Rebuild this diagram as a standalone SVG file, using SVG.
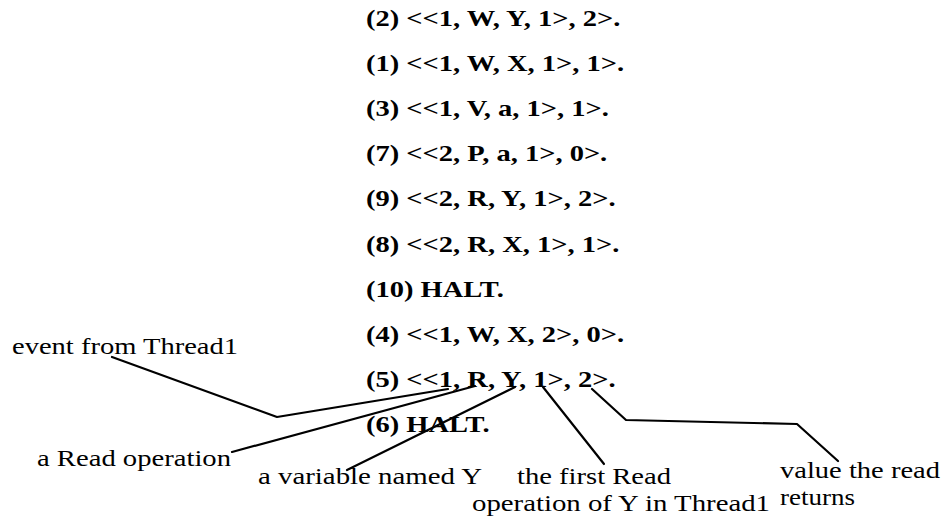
<svg xmlns="http://www.w3.org/2000/svg" width="947" height="520" viewBox="0 0 947 520">
<style>
.row{font-family:"Liberation Serif",serif;font-size:23px;fill:#000;font-weight:bold}
.lbl{font-family:"Liberation Serif",serif;font-size:24px;fill:#000}
.ln{fill:none;stroke:#000;stroke-width:2.2;stroke-linejoin:round;stroke-linecap:round}
</style>
<rect width="947" height="520" fill="#fff"/>
<g id="rows" transform="translate(366 0) scale(1.24 1)">
<text class="row" x="0" y="26">(2) &lt;&lt;1, W, Y, 1&gt;, 2&gt;.</text>
<text class="row" x="0" y="71">(1) &lt;&lt;1, W, X, 1&gt;, 1&gt;.</text>
<text class="row" x="0" y="116">(3) &lt;&lt;1, V, a, 1&gt;, 1&gt;.</text>
<text class="row" x="0" y="161">(7) &lt;&lt;2, P, a, 1&gt;, 0&gt;.</text>
<text class="row" x="0" y="206.5">(9) &lt;&lt;2, R, Y, 1&gt;, 2&gt;.</text>
<text class="row" x="0" y="252">(8) &lt;&lt;2, R, X, 1&gt;, 1&gt;.</text>
<text class="row" x="0" y="297">(10) HALT.</text>
<text class="row" x="0" y="342">(4) &lt;&lt;1, W, X, 2&gt;, 0&gt;.</text>
<text class="row" x="0" y="387.5">(5) &lt;&lt;1, R, Y, 1&gt;, 2&gt;.</text>
<text class="row" x="0" y="432.5">(6) HALT.</text>
</g>
<g id="label-event"><text class="lbl" x="12" y="354" textLength="226" lengthAdjust="spacingAndGlyphs">event from Thread1</text></g>
<g id="label-read"><text class="lbl" x="37" y="466" textLength="194" lengthAdjust="spacingAndGlyphs">a Read operation</text></g>
<g id="label-variable"><text class="lbl" x="258" y="484" textLength="224" lengthAdjust="spacingAndGlyphs">a variable named Y</text></g>
<g id="label-first"><text class="lbl" x="517" y="484" textLength="154" lengthAdjust="spacingAndGlyphs">the first Read</text><text class="lbl" x="472" y="511" textLength="298" lengthAdjust="spacingAndGlyphs">operation of Y in Thread1</text></g>
<g id="label-value"><text class="lbl" x="780" y="478" textLength="160" lengthAdjust="spacingAndGlyphs">value the read</text><text class="lbl" x="780" y="505" textLength="75" lengthAdjust="spacingAndGlyphs">returns</text></g>
<g id="connectors">
<polyline class="ln" points="112,357 277,417 448,389"/>
<polyline class="ln" points="232,452 475,386"/>
<polyline class="ln" points="347,470 515,387"/>
<polyline class="ln" points="543,387 604,464"/>
<polyline class="ln" points="592,389 626,420 797,424 838,461"/>
</g>
</svg>
